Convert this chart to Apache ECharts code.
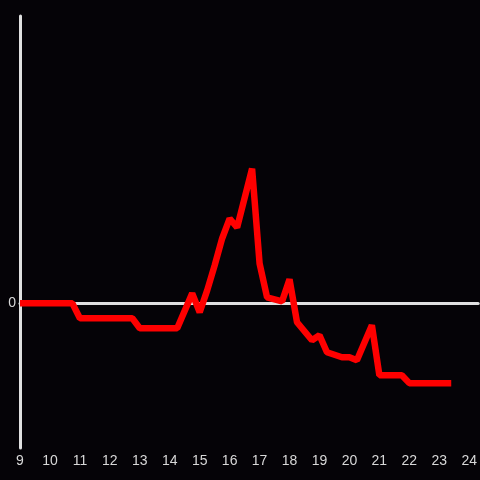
<!DOCTYPE html>
<html>
<head>
<meta charset="utf-8">
<script src="https://cdn.jsdelivr.net/npm/echarts@6/dist/echarts.min.js"></script>
<style>
  html, body { margin: 0; padding: 0; background: #050307; }
  #chart { width: 480px; height: 480px; }
</style>
</head>
<body>
<div id="chart"></div>
<script>
  // hour of day and value
  const hours = [9, 10.75, 11, 12.75, 13, 14.25, 14.75, 15, 15.25, 15.5, 15.75, 16, 16.25, 16.75,
    17, 17.25, 17.75, 18, 18.25, 18.75, 19, 19.25, 19.75, 20, 20.25, 20.75, 21, 21.75, 22, 23.4];
  const values = [0, 0, -1.5, -1.5, -2.5, -2.5, 1.0, -0.9, 1.3, 3.8, 6.5, 8.5, 7.6, 13.5,
    4.0, 0.6, 0.2, 2.4, -1.9, -3.7, -3.2, -4.9, -5.4, -5.4, -5.7, -2.2, -7.2, -7.2, -8.0, -8.0];
  const hourTicks = [9, 10, 11, 12, 13, 14, 15, 16, 17, 18, 19, 20, 21, 22, 23, 24];

  const chart = echarts.init(document.getElementById("chart"));

  const option = {
    backgroundColor: "#050307",
    animation: false,
    grid: { left: 20, right: 0, top: 16, bottom: 32 },
    xAxis: [
      {
        type: "value",
        min: 9,
        max: 24.3,
        interval: 1,
        axisLine: { show: false, onZero: false },
        axisTick: { show: false },
        splitLine: { show: false },
        axisLabel: {
          color: "#d8d8d8",
          fontSize: 14,
          margin: 6,
          showMaxLabel: false,
          formatter: v => (hourTicks.includes(v) ? String(v) : "")
        }
      },
      {
        type: "value",
        min: 9,
        max: 24.3,
        position: "top",
        axisLine: { show: true, onZero: true, lineStyle: { color: "#e0e0e0", width: 3 } },
        axisTick: { show: false },
        axisLabel: { show: false },
        splitLine: { show: false }
      }
    ],
    yAxis: {
      type: "value",
      min: -14.5,
      max: 28.8,
      interval: 14.5,
      axisLine: { show: true, onZero: false, lineStyle: { color: "#e0e0e0", width: 3 } },
      axisTick: { show: false },
      splitLine: { show: false },
      axisLabel: {
        color: "#d8d8d8",
        fontSize: 14,
        margin: 4,
        showMaxLabel: false,
        formatter: v => (v === 0 ? "0" : "")
      }
    },
    series: [
      {
        type: "line",
        data: hours.map((h, i) => [h, values[i]]),
        symbol: "none",
        z: 5,
        lineStyle: { color: "#ff0000", width: 6.5 }
      }
    ]
  };

  chart.setOption(option);
</script>
</body>
</html>
